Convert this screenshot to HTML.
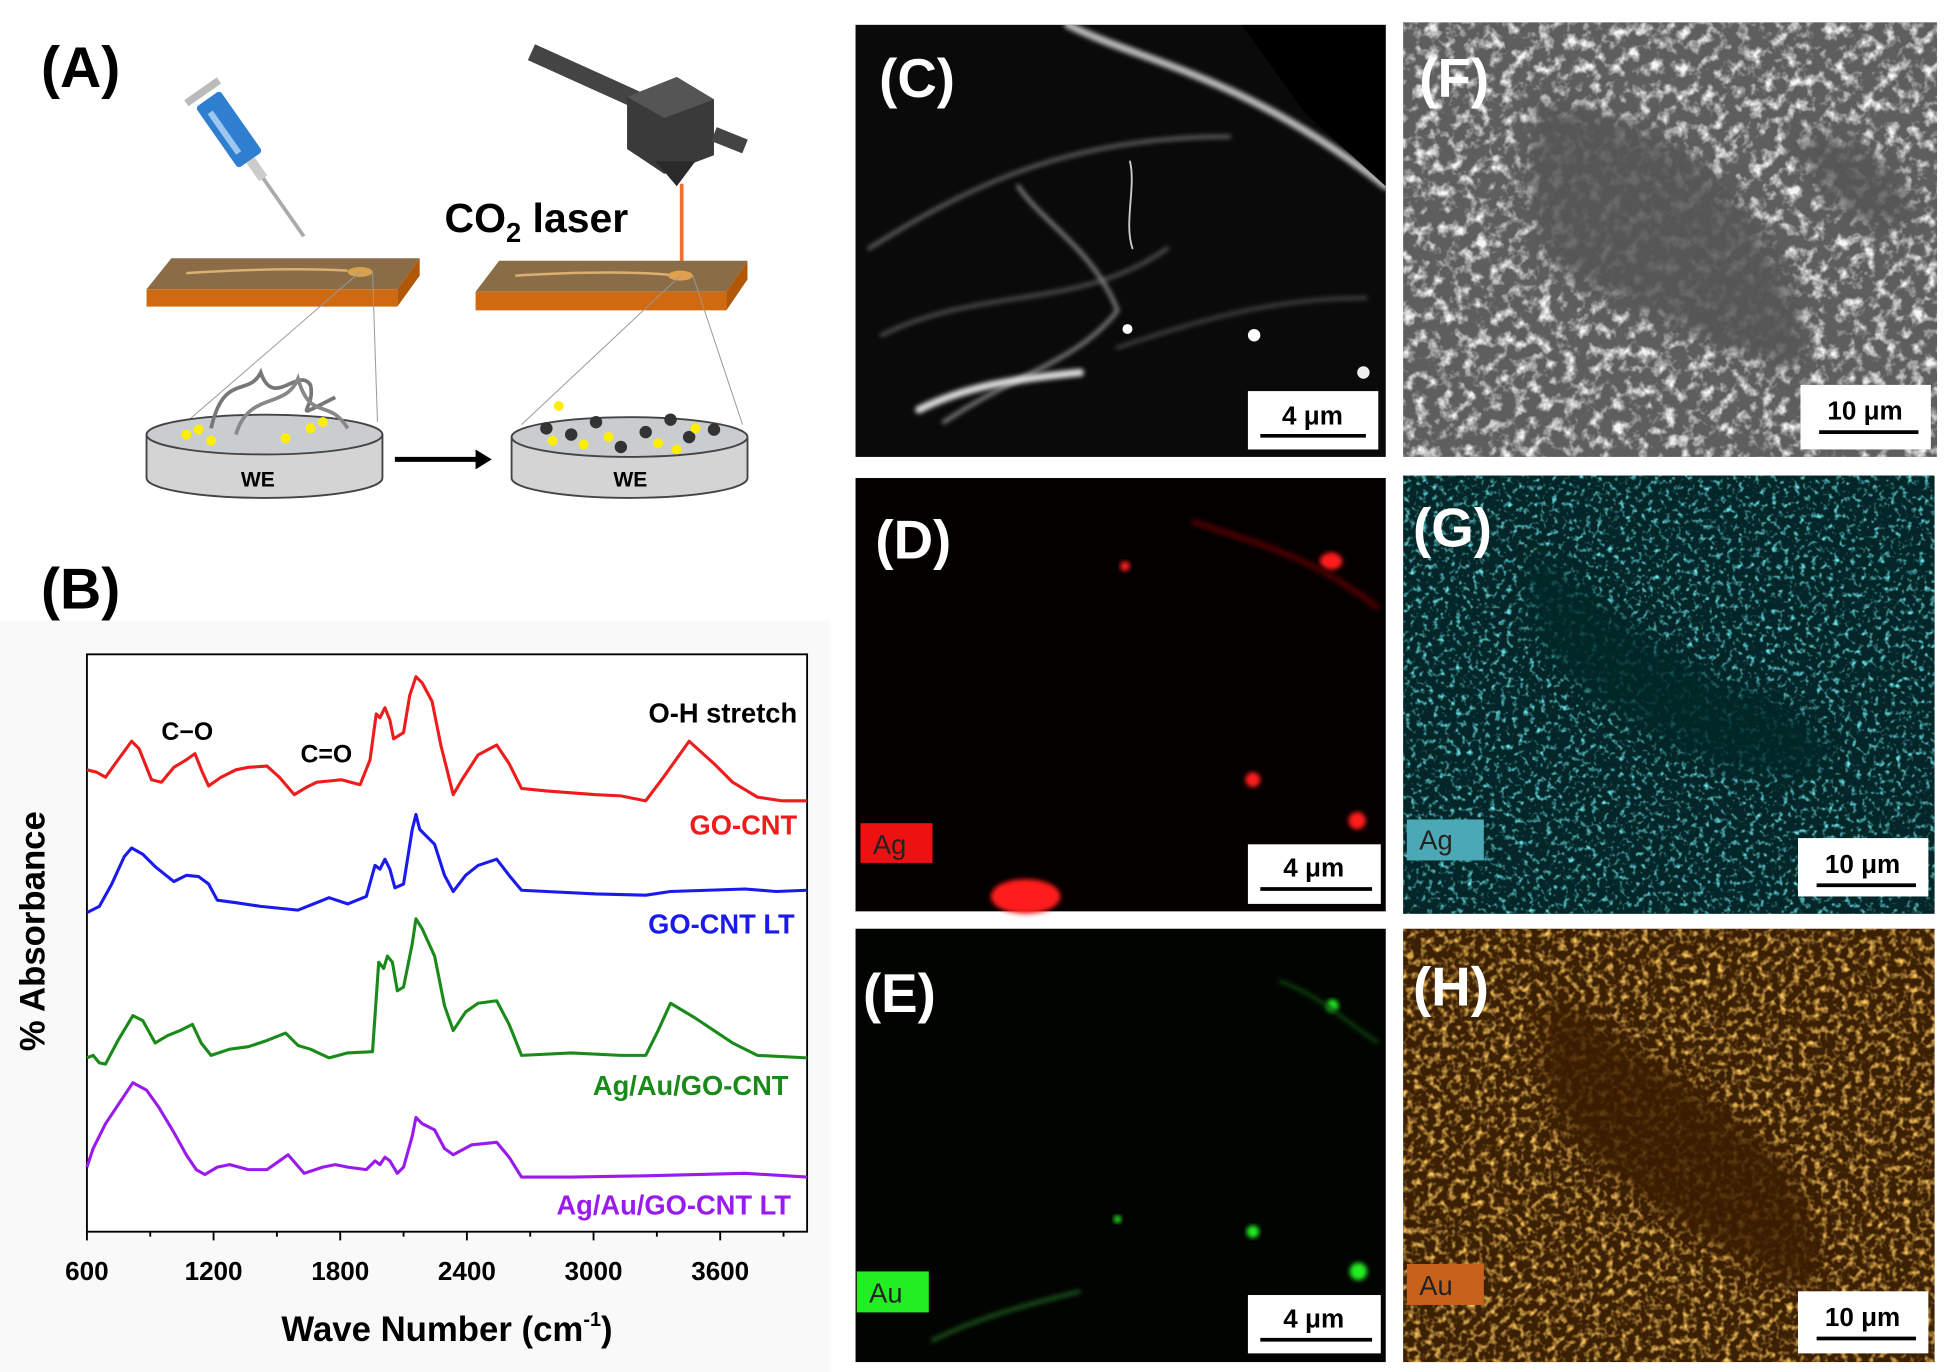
<!DOCTYPE html>
<html><head><meta charset="utf-8"><style>
html,body{margin:0;padding:0;background:#fff}
svg{display:block}
text{font-family:"Liberation Sans",Arial,sans-serif;font-weight:bold}
</style></head><body>
<svg width="1947" height="1372" viewBox="0 0 1568 1105" preserveAspectRatio="none" xmlns="http://www.w3.org/2000/svg">
<defs>
<filter id="bl" x="-20%" y="-20%" width="140%" height="140%"><feGaussianBlur stdDeviation="2"/></filter>
<filter id="bl4" x="-20%" y="-20%" width="140%" height="140%"><feGaussianBlur stdDeviation="8"/></filter>
<filter id="noiseG"><feTurbulence type="fractalNoise" baseFrequency="0.22" numOctaves="2" seed="3"/><feColorMatrix values="0 0 0 0 0.15  0 0 0 0 0.85  0 0 0 0 0.9  0 0 0 3 -1.6"/></filter>
<filter id="noiseH"><feTurbulence type="fractalNoise" baseFrequency="0.18" numOctaves="2" seed="7"/><feColorMatrix values="0 0 0 0 0.95  0 0 0 0 0.55  0 0 0 0 0.1  0 0 0 2.6 -1.2"/></filter>
<filter id="noiseF"><feTurbulence type="fractalNoise" baseFrequency="0.1" numOctaves="3" seed="5"/><feColorMatrix values="0 0 0 0 0.92  0 0 0 0 0.92  0 0 0 0 0.92  0 0 0 3 -1.4"/></filter>
<clipPath id="cF"><rect x="1130" y="18" width="430" height="350"/></clipPath>
<clipPath id="cG"><rect x="1130" y="383" width="428" height="353"/></clipPath>
<clipPath id="cH"><rect x="1130" y="748" width="428" height="349"/></clipPath>
<clipPath id="cC"><rect x="689" y="20" width="427" height="348"/></clipPath>
</defs>

<rect x="0" y="500" width="668" height="605" fill="#f9f9f9"/>

<text x="33" y="70" font-size="46">(A)</text>
<g transform="rotate(-35 200 130)">
<rect x="190" y="70" width="24" height="60" rx="3" fill="#2f7fd0"/>
<rect x="195" y="80" width="5" height="40" fill="#9cc7f0"/>
<rect x="198" y="130" width="8" height="18" fill="#ccc"/>
<line x1="202" y1="148" x2="202" y2="205" stroke="#aaa" stroke-width="3"/>
<rect x="186" y="60" width="32" height="6" fill="#bbb"/>
</g>
<line x1="428" y1="42" x2="512" y2="80" stroke="#444" stroke-width="14"/>
<polygon points="505,78 545,62 575,80 575,125 535,140 505,120" fill="#3a3a3a"/>
<polygon points="505,78 545,62 575,80 535,95" fill="#555"/>
<line x1="575" y1="108" x2="600" y2="118" stroke="#444" stroke-width="12"/>
<polygon points="528,130 560,130 545,150" fill="#2a2a2a"/>
<line x1="549" y1="148" x2="549" y2="218" stroke="#f07030" stroke-width="3"/>
<text x="358" y="187" font-size="33">CO<tspan font-size="22" dy="8">2</tspan><tspan dy="-8"> laser</tspan></text>
<polygon points="118,233 138,208 338,208 320,233" fill="#8a6d46"/>
<polygon points="118,233 320,233 320,247 118,247" fill="#d06a10"/>
<polygon points="320,233 338,208 338,222 320,247" fill="#b05808"/>
<path d="M150,220 Q230,215 280,218" stroke="#d9b070" stroke-width="2" fill="none"/>
<ellipse cx="290" cy="219" rx="10" ry="4" fill="#d9a050"/>
<polygon points="383,235 402,210 602,210 585,235" fill="#8a6d46"/>
<polygon points="383,235 585,235 585,250 383,250" fill="#d06a10"/>
<polygon points="585,235 602,210 602,225 585,250" fill="#b05808"/>
<path d="M415,222 Q500,217 545,222" stroke="#d9b070" stroke-width="2" fill="none"/>
<ellipse cx="548" cy="222" rx="10" ry="4" fill="#e0a050"/>
<g stroke="#999" stroke-width="0.8"><line x1="290" y1="219" x2="150" y2="340"/><line x1="300" y1="219" x2="304" y2="340"/><line x1="548" y1="222" x2="420" y2="342"/><line x1="558" y1="222" x2="598" y2="342"/></g>
<g>
<path d="M118,350 L118,385 A95,16 0 0 0 308,385 L308,350" fill="#d4d4d4" stroke="#444" stroke-width="1.5"/>
<ellipse cx="213" cy="350" rx="95" ry="16" fill="#c9cdd0" stroke="#444" stroke-width="1.5"/>
<text x="194" y="392" font-size="17">WE</text>
<path d="M170,345 C180,300 200,320 210,300 C220,330 240,295 250,310 C255,330 230,340 270,320" stroke="#777" stroke-width="3" fill="none"/>
<path d="M190,350 C200,315 230,330 240,305 C250,340 265,320 280,345" stroke="#888" stroke-width="3" fill="none"/>
<g fill="#ffee00"><circle cx="150" cy="350" r="4"/><circle cx="160" cy="346" r="4"/><circle cx="170" cy="355" r="4"/><circle cx="230" cy="353" r="4"/><circle cx="250" cy="345" r="4"/><circle cx="260" cy="340" r="4"/></g>
</g>
<line x1="318" y1="370" x2="385" y2="370" stroke="#000" stroke-width="4"/>
<polygon points="383,362 396,370 383,378" fill="#000"/>
<g>
<path d="M412,352 L412,385 A95,16 0 0 0 602,385 L602,352" fill="#d4d4d4" stroke="#444" stroke-width="1.5"/>
<ellipse cx="507" cy="352" rx="95" ry="16" fill="#c9cdd0" stroke="#444" stroke-width="1.5"/>
<text x="494" y="392" font-size="17">WE</text>
<g fill="#333"><circle cx="440" cy="345" r="5"/><circle cx="460" cy="350" r="5"/><circle cx="480" cy="340" r="5"/><circle cx="520" cy="348" r="5"/><circle cx="540" cy="338" r="5"/><circle cx="555" cy="352" r="5"/><circle cx="500" cy="360" r="5"/><circle cx="575" cy="346" r="5"/></g>
<g fill="#ffee00"><circle cx="450" cy="327" r="4"/><circle cx="445" cy="355" r="4"/><circle cx="470" cy="358" r="4"/><circle cx="530" cy="357" r="4"/><circle cx="545" cy="362" r="4"/><circle cx="560" cy="345" r="4"/><circle cx="490" cy="352" r="4"/></g>
</g>

<text x="33" y="490" font-size="46">(B)</text>
<rect x="70" y="527" width="580" height="465" fill="#fff" stroke="#000" stroke-width="1.5"/>
<g stroke="#000" stroke-width="1.5">
<line x1="70" y1="992" x2="70" y2="999"/><line x1="121" y1="992" x2="121" y2="996"/><line x1="172" y1="992" x2="172" y2="999"/><line x1="223" y1="992" x2="223" y2="996"/><line x1="274" y1="992" x2="274" y2="999"/><line x1="325" y1="992" x2="325" y2="996"/><line x1="376" y1="992" x2="376" y2="999"/><line x1="427" y1="992" x2="427" y2="996"/><line x1="478" y1="992" x2="478" y2="999"/><line x1="529" y1="992" x2="529" y2="996"/><line x1="580" y1="992" x2="580" y2="999"/><line x1="631" y1="992" x2="631" y2="996"/>
</g>
<g font-size="21" text-anchor="middle"><text x="70" y="1031">600</text><text x="172" y="1031">1200</text><text x="274" y="1031">1800</text><text x="376" y="1031">2400</text><text x="478" y="1031">3000</text><text x="580" y="1031">3600</text></g>
<text x="360" y="1080" font-size="28" text-anchor="middle">Wave Number (cm<tspan font-size="16" dy="-12">-1</tspan><tspan dy="12">)</tspan></text>
<text transform="translate(36,750) rotate(-90)" font-size="28" text-anchor="middle">% Absorbance</text>
<g fill="none" stroke-width="2.5" stroke-linejoin="round">
<polyline stroke="#ee1c1c" points="70,620 78,622 85,626 95,612 106,597 112,603 122,628 130,630 140,618 150,612 157,607 163,622 168,633 178,626 190,620 200,618 215,617 225,626 237,640 247,634 255,630 265,629 275,628 290,632 298,612 303,575 306,578 310,570 314,580 317,595 325,590 330,560 335,545 340,550 348,565 355,600 365,640 372,628 385,608 400,600 410,615 420,635 440,637 480,640 500,641 520,645 535,625 555,597 575,615 590,630 610,642 630,645 650,645"/>
<polyline stroke="#1a1aee" points="70,735 80,730 90,712 100,690 106,683 115,688 125,698 140,710 150,705 160,706 168,712 175,725 190,727 210,730 240,733 255,727 265,723 280,728 295,722 302,697 306,700 310,692 314,700 318,715 325,712 332,668 335,656 338,668 342,672 350,680 358,705 365,718 375,705 385,697 400,692 410,705 420,717 440,718 480,720 520,721 540,718 570,717 600,716 625,718 650,717"/>
<polyline stroke="#1a8a1a" points="70,852 75,850 80,856 85,857 95,838 107,818 115,822 125,840 135,834 145,830 155,825 162,840 170,850 185,845 200,843 215,838 230,832 240,842 250,845 265,852 280,848 300,847 305,775 309,780 312,770 316,775 320,798 325,795 332,760 335,740 340,748 350,770 358,810 365,830 375,815 385,808 400,806 410,825 420,850 460,848 500,850 520,850 530,830 540,808 560,820 575,830 590,840 610,850 650,852"/>
<polyline stroke="#9a1aee" points="70,940 75,925 85,905 95,890 107,872 118,878 128,892 140,912 150,930 158,942 165,946 175,940 185,938 200,942 215,942 225,935 232,930 245,945 260,940 270,938 280,940 295,942 302,935 306,938 310,932 314,935 320,945 325,940 332,915 335,900 340,905 350,910 358,925 365,930 380,922 400,920 410,932 420,948 460,948 520,947 560,946 600,945 650,948"/>
</g>
<text x="130" y="596" font-size="20">C−O</text>
<text x="242" y="614" font-size="20">C=O</text>
<text x="642" y="582" font-size="22" text-anchor="end">O-H stretch</text>
<g font-size="22" text-anchor="end">
<text x="642" y="672" fill="#ee1c1c">GO-CNT</text>
<text x="640" y="752" fill="#1a1aee">GO-CNT LT</text>
<text x="635" y="882" fill="#1a8a1a">Ag/Au/GO-CNT</text>
<text x="637" y="978" fill="#9a1aee">Ag/Au/GO-CNT LT</text>
</g>

<rect x="689" y="20" width="427" height="348" fill="#0a0a0a"/>
<g clip-path="url(#cC)" fill="none" stroke-linecap="round">
<path d="M860,20 C920,50 1000,60 1116,150" stroke="#bbb" stroke-width="6" filter="url(#bl)"/>
<path d="M700,200 C780,150 860,110 990,110" stroke="#666" stroke-width="3" filter="url(#bl)"/>
<path d="M710,270 C790,230 870,250 940,200" stroke="#555" stroke-width="3" filter="url(#bl)"/>
<path d="M760,340 C820,300 870,290 900,250 C880,200 840,180 820,150" stroke="#888" stroke-width="3" filter="url(#bl)"/>
<path d="M740,330 C780,310 820,305 870,300" stroke="#ddd" stroke-width="6" filter="url(#bl)"/>
<path d="M1116,20 L1116,150 L1050,90 L1000,20 Z" fill="#000"/>
<path d="M900,280 C960,260 1020,240 1100,240" stroke="#444" stroke-width="3" filter="url(#bl)"/>
<circle cx="1010" cy="270" r="5" fill="#fff" stroke="none"/><circle cx="908" cy="265" r="4" fill="#fff" stroke="none"/><circle cx="1098" cy="300" r="5" fill="#eee" stroke="none"/>
<path d="M910,130 C915,150 905,180 912,200" stroke="#ccc" stroke-width="1.5"/>
</g>
<text x="708" y="78" font-size="44" fill="#fff">(C)</text>

<rect x="689" y="385" width="427" height="349" fill="#050000"/>
<g fill="#ff1a1a">
<ellipse cx="1072" cy="452" rx="9" ry="7" filter="url(#bl)"/><circle cx="906" cy="456" r="4" filter="url(#bl)"/><circle cx="1009" cy="628" r="6" filter="url(#bl)"/><circle cx="1093" cy="661" r="7" filter="url(#bl)"/>
<ellipse cx="826" cy="722" rx="28" ry="14" filter="url(#bl)"/>
</g>
<path d="M960,420 C1020,440 1060,450 1110,490" stroke="#4a0000" stroke-width="5" fill="none" filter="url(#bl)"/>
<text x="705" y="450" font-size="44" fill="#fff">(D)</text>
<rect x="693" y="663" width="58" height="32" fill="#ee1111"/>
<text x="703" y="688" font-size="22" fill="#222" style="font-weight:normal">Ag</text>

<rect x="689" y="748" width="427" height="349" fill="#020402"/>
<g fill="#22ee22">
<circle cx="1073" cy="810" r="5" filter="url(#bl)"/><circle cx="1009" cy="992" r="5" filter="url(#bl)"/><circle cx="1094" cy="1024" r="7" filter="url(#bl)"/><circle cx="900" cy="982" r="3" filter="url(#bl)"/>
</g>
<path d="M750,1080 C790,1060 830,1050 870,1040" stroke="#1a5a1a" stroke-width="3" fill="none" filter="url(#bl)"/>
<path d="M1030,790 C1060,800 1080,820 1110,840" stroke="#0f400f" stroke-width="3" fill="none" filter="url(#bl)"/>
<text x="695" y="815" font-size="44" fill="#fff">(E)</text>
<rect x="690" y="1024" width="58" height="33" fill="#22ee22"/>
<text x="700" y="1049" font-size="22" fill="#222" style="font-weight:normal">Au</text>

<rect x="1130" y="18" width="430" height="350" fill="#5e5e5e"/>
<g clip-path="url(#cF)">
<rect x="1130" y="18" width="430" height="350" filter="url(#noiseF)"/>
<path d="M1240,80 C1300,90 1360,110 1400,160 C1440,210 1460,250 1450,300 C1380,280 1320,250 1270,230 C1230,200 1220,140 1240,80 Z" fill="#555" filter="url(#bl4)" opacity="0.85"/>
<path d="M1440,110 C1480,100 1520,120 1540,160 C1530,200 1500,190 1470,160 Z" fill="#555" filter="url(#bl4)" opacity="0.8"/>
</g>
<text x="1143" y="78" font-size="44" fill="#fff">(F)</text>

<rect x="1130" y="383" width="428" height="353" fill="#052628"/>
<g clip-path="url(#cG)">
<rect x="1130" y="383" width="428" height="353" filter="url(#noiseG)"/>
<path d="M1240,440 C1300,500 1360,540 1420,560 C1460,580 1480,600 1470,620 C1400,640 1340,600 1280,560 C1230,520 1220,480 1240,440 Z" fill="#052628" filter="url(#bl4)" opacity="0.8"/>
</g>
<text x="1138" y="440" font-size="44" fill="#fff">(G)</text>
<rect x="1133" y="660" width="62" height="33" fill="#4aa9b4"/>
<text x="1143" y="684" font-size="22" fill="#222" style="font-weight:normal">Ag</text>

<rect x="1130" y="748" width="428" height="349" fill="#3c2004"/>
<g clip-path="url(#cH)">
<rect x="1130" y="748" width="428" height="349" filter="url(#noiseH)"/>
<path d="M1250,800 C1310,840 1380,880 1420,920 C1460,960 1470,1000 1460,1040 C1400,1020 1340,980 1290,940 C1240,900 1230,850 1250,800 Z" fill="#3a1e04" filter="url(#bl4)" opacity="0.8"/>
</g>
<text x="1138" y="810" font-size="44" fill="#fff">(H)</text>
<rect x="1133" y="1018" width="62" height="33" fill="#c8621a"/>
<text x="1143" y="1043" font-size="22" fill="#222" style="font-weight:normal">Au</text>

<g font-size="21" text-anchor="middle">
<rect x="1005" y="315" width="105" height="47" fill="#fff"/><text x="1057" y="342">4 μm</text><line x1="1015" y1="351" x2="1100" y2="351" stroke="#000" stroke-width="3"/>
<rect x="1005" y="680" width="107" height="48" fill="#fff"/><text x="1058" y="706">4 μm</text><line x1="1015" y1="716" x2="1105" y2="716" stroke="#000" stroke-width="3"/>
<rect x="1005" y="1043" width="107" height="47" fill="#fff"/><text x="1058" y="1069">4 μm</text><line x1="1015" y1="1079" x2="1105" y2="1079" stroke="#000" stroke-width="3"/>
<rect x="1450" y="310" width="105" height="52" fill="#fff"/><text x="1502" y="338">10 μm</text><line x1="1465" y1="348" x2="1545" y2="348" stroke="#000" stroke-width="3"/>
<rect x="1448" y="675" width="105" height="47" fill="#fff"/><text x="1500" y="703">10 μm</text><line x1="1463" y1="713" x2="1543" y2="713" stroke="#000" stroke-width="3"/>
<rect x="1448" y="1040" width="105" height="50" fill="#fff"/><text x="1500" y="1068">10 μm</text><line x1="1463" y1="1078" x2="1543" y2="1078" stroke="#000" stroke-width="3"/>
</g>
</svg>
</body></html>
